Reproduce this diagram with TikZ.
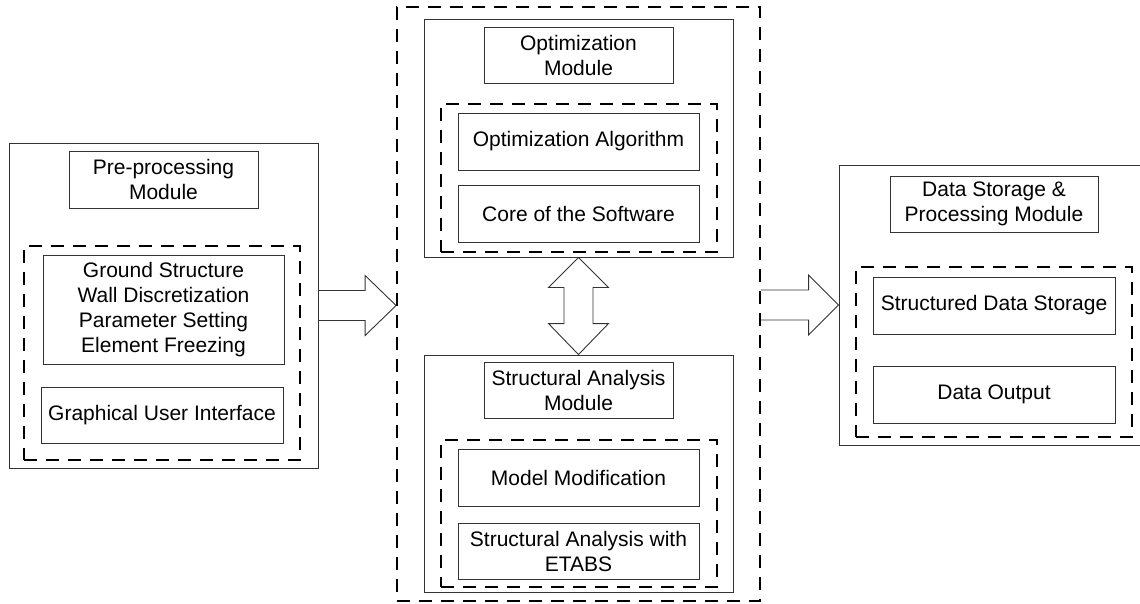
\documentclass[tikz,border=0pt]{standalone}
\usepackage{fontspec}
\setmainfont{Liberation Sans}
\usetikzlibrary{calc}
\begin{document}
\begin{tikzpicture}[x=1pt,y=-1pt,
  font=\fontsize{21}{25}\selectfont,
  solidbox/.style={draw=black!80,line width=0.9pt,inner sep=0pt,align=center},
  dashbox/.style={draw=black,line width=1.8pt,dash pattern=on 13pt off 9pt,inner sep=0pt},
  blockarrow/.style={draw=black!80,line width=0.9pt,line join=miter}]
\useasboundingbox (0,0) rectangle (1140,603);

% Pre-processing module
\node[solidbox,minimum width=309pt,minimum height=325pt] (pre) at (163.5,305.5) {};
\node[solidbox,minimum width=189pt,minimum height=57pt] (pretitle) at (163.5,179.5) {Pre-processing\\Module};
\node[dashbox,minimum width=276pt,minimum height=214pt] (pregroup) at (162,353) {};
\node[solidbox,minimum width=241pt,minimum height=109pt] (ground) at (163.5,309.5) {Ground Structure\\Wall Discretization\\Parameter Setting\\Element Freezing};
\node[solidbox,minimum width=242pt,minimum height=56pt] (gui) at (162,415) {Graphical User Interface};

% Central group
\node[dashbox,minimum width=363pt,minimum height=594pt] (mid) at (578.5,304) {};

\node[solidbox,minimum width=309pt,minimum height=238pt] (opt) at (578.5,138) {};
\node[solidbox,minimum width=189pt,minimum height=56pt] (opttitle) at (578.5,55) {Optimization\\Module};
\node[dashbox,minimum width=276pt,minimum height=148pt] (optgroup) at (579,178) {};
\node[solidbox,minimum width=241pt,minimum height=57pt] (alg) at (578.5,141.5) {Optimization Algorithm};
\node[solidbox,minimum width=241pt,minimum height=57pt] (core) at (578.5,213.5) {Core of the Software};

\node[solidbox,minimum width=309pt,minimum height=237pt] (sa) at (578.5,473.5) {};
\node[solidbox,minimum width=189pt,minimum height=56pt] (satitle) at (578.5,390) {Structural Analysis\\Module};
\node[dashbox,minimum width=276pt,minimum height=147pt] (sagroup) at (579,513.5) {};
\node[solidbox,minimum width=241pt,minimum height=57pt] (modmod) at (578.5,477.5) {Model Modification};
\node[solidbox,minimum width=241pt,minimum height=56pt] (etabs) at (578.5,551) {Structural Analysis with\\ETABS};

% Data storage & processing module
\node[solidbox,minimum width=306pt,minimum height=280pt] (data) at (992,305) {};
\node[solidbox,minimum width=208pt,minimum height=56pt] (datatitle) at (994,204) {Data Storage \&\\Processing Module};
\node[dashbox,minimum width=276pt,minimum height=170pt] (datagroup) at (994,352) {};
\node[solidbox,minimum width=242pt,minimum height=57pt] (store) at (994,305.5) {Structured Data Storage};
\node[solidbox,minimum width=242pt,minimum height=57pt] (out) at (994,394.5) {Data Output};

% Block arrows
\draw[blockarrow] let \p1=(pre.east), \p2=(mid.west) in
  (\x1,\y1+15pt) -- (\x2-31pt,\y1+15pt) -- (\x2-31pt,\y1+30pt) -- (\x2,\y1)
  -- (\x2-31pt,\y1-30pt) -- (\x2-31pt,\y1-15pt) -- (\x1,\y1-15pt);
\draw[blockarrow] let \p1=(mid.east), \p2=(data.west) in
  (\x1,\y2+15pt) -- (\x2-30pt,\y2+15pt) -- (\x2-30pt,\y2+30pt) -- (\x2,\y2)
  -- (\x2-30pt,\y2-30pt) -- (\x2-30pt,\y2-15pt) -- (\x1,\y2-15pt);
\draw[blockarrow] let \p1=(opt.south), \p2=(sa.north) in
  (\x1,\y1) -- (\x1+30pt,\y1-30pt) -- (\x1+14.5pt,\y1-30pt) -- (\x1+14.5pt,\y2+31pt)
  -- (\x1+30pt,\y2+31pt) -- (\x2,\y2) -- (\x1-30pt,\y2+31pt) -- (\x1-14.5pt,\y2+31pt)
  -- (\x1-14.5pt,\y1-30pt) -- (\x1-30pt,\y1-30pt) -- cycle;
\end{tikzpicture}
\end{document}
